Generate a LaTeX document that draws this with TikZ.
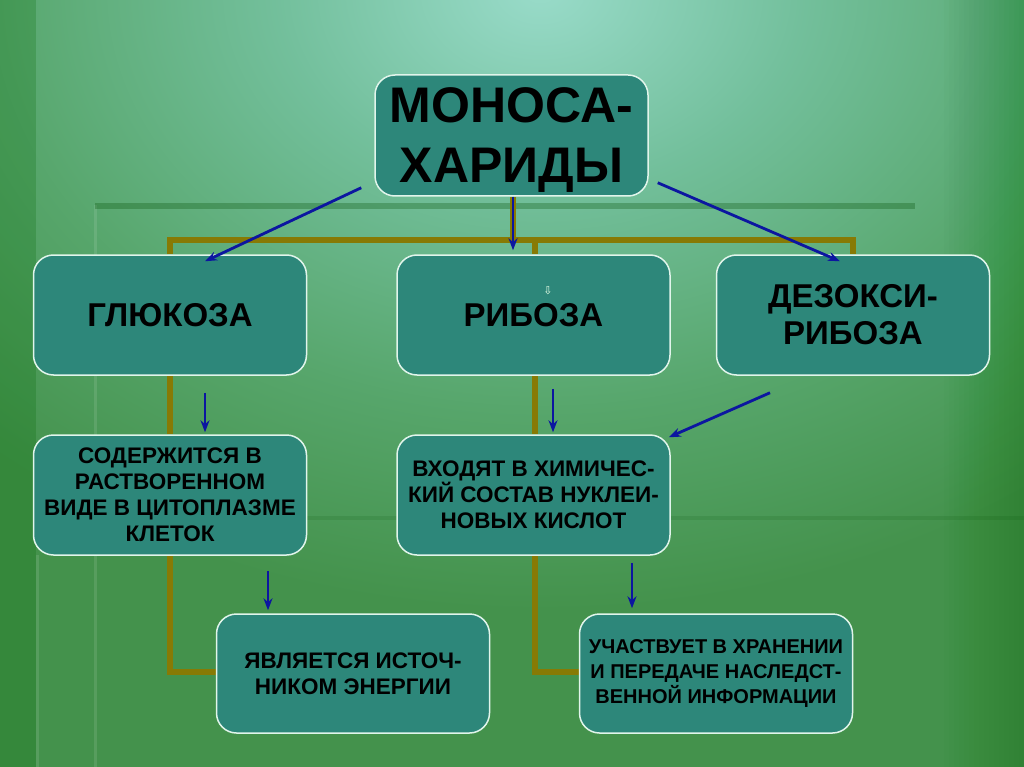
\documentclass[tikz,border=0pt]{standalone}
\usepackage{fontspec}
\setmainfont{Liberation Sans}
\newfontfamily\symfont{DejaVu Sans}
\usetikzlibrary{arrows.meta,calc}
\definecolor{boxfill}{RGB}{45,135,122}
\definecolor{boxline}{RGB}{225,245,235}
\definecolor{treeline}{RGB}{135,122,5}
\definecolor{arrowblue}{RGB}{12,22,160}
\definecolor{basegreen}{RGB}{68,146,76}
\pgfdeclarelayer{bg}
\pgfdeclarelayer{back}
\pgfsetlayers{bg,back,main}
\pgfdeclareradialshading{bgshade}{\pgfpoint{0bp}{0bp}}{rgb(0bp)=(0.60,0.86,0.79); rgb(8bp)=(0.45,0.75,0.61); rgb(17bp)=(0.34,0.65,0.42); rgb(25bp)=(0.267,0.573,0.298); rgb(50bp)=(0.267,0.573,0.298)}
\tikzset{
  box/.style={rectangle, rounded corners=20pt, draw=boxline, line width=1.5pt,
    fill=boxfill, align=center, text=black, inner sep=0pt,
    minimum width=273pt, minimum height=120pt},
  bigfont/.style={font={\fontsize{33}{37}\selectfont\bfseries}},
  smallfont/.style={font={\fontsize{22.5}{26}\selectfont\bfseries}},
  tree/.style={draw=treeline, line width=6pt, line join=miter},
  arr/.style={draw=arrowblue, line width=2.8pt, -{Stealth[length=12pt,width=9pt]}}
}
\begin{document}
\begin{tikzpicture}[x=1pt,y=-1pt]
\useasboundingbox (0,0) rectangle (1024,767);
% background
\begin{pgfonlayer}{bg}
  \fill[basegreen] (0,0) rectangle (1024,767);
  \begin{scope}
    \clip (0,0) rectangle (1024,767);
    \shade[shading=bgshade] (540,-10) ellipse (820 and 620);
  \end{scope}
  \fill[black!60!green, opacity=0.22] (0,0) rectangle (36,767);
  \foreach \i in {0,...,15} {
    \fill[black!60!green, opacity=0.016] ({944+5*\i},0) rectangle (1024,767);
  }
  \fill[white, opacity=0.10] (36,555) rectangle (39,767);
  \fill[white, opacity=0.10] (94,205) rectangle (97,767);
  \fill[black!70!green, opacity=0.28] (95,203) rectangle (915,209);
  \fill[black!70!green, opacity=0.12] (95,516) rectangle (1024,520);
\end{pgfonlayer}
% nodes
\node[box, minimum height=121pt, font={\fontsize{50}{60}\selectfont\bfseries}] (mono) at (511.5,135.5) {\rule{0pt}{44pt}МОНОСА-\\ХАРИДЫ};
\node[box, bigfont] (glu) at (170,315) {ГЛЮКОЗА};
\node[box, bigfont] (rib) at (533.5,315) {РИБОЗА};
\node[box, bigfont] (dez) at (853,315) {ДЕЗОКСИ-\\РИБОЗА};
\node[text=white!90!green, font={\symfont\fontsize{11}{11}\selectfont}] (ribmark) at (548,291) {⇩};
\node[box, smallfont] (sod) at (170,495) {СОДЕРЖИТСЯ В\\РАСТВОРЕННОМ\\ВИДЕ В ЦИТОПЛАЗМЕ\\КЛЕТОК};
\node[box, smallfont] (vkh) at (533.5,495) {ВХОДЯТ В ХИМИЧЕС-\\КИЙ СОСТАВ НУКЛЕИ-\\НОВЫХ КИСЛОТ};
\node[box, smallfont, minimum height=119pt] (yav) at (353,673.5) {ЯВЛЯЕТСЯ ИСТОЧ-\\НИКОМ ЭНЕРГИИ};
\node[box, minimum height=119pt, font={\fontsize{20}{25}\selectfont\bfseries}] (uch) at (716,673.5) {УЧАСТВУЕТ В ХРАНЕНИИ\\И ПЕРЕДАЧЕ НАСЛЕДСТ-\\ВЕННОЙ ИНФОРМАЦИИ};
% olive tree lines
\coordinate (tl) at (170,240);
\begin{pgfonlayer}{back}
  \draw[tree] ($(mono.south)+(1.5,0)$) -- ($(mono.south |- tl)+(1.5,0)$);
  \draw[tree] (glu.north) -- (glu.north |- tl) -| (dez.north);
  \draw[tree] ($(rib.north |- tl)+(1.5,0)$) -- ($(rib.north)+(1.5,0)$);
  \draw[tree] (glu.south) -- (sod.north);
  \draw[tree] (sod.south) |- ($(yav.west)+(0,-1.5)$);
  \draw[tree] ($(rib.south)+(1.5,0)$) -- ($(vkh.north)+(1.5,0)$);
  \draw[tree] ($(vkh.south)+(1.5,0)$) |- ($(uch.west)+(0,-1.5)$);
\end{pgfonlayer}
% blue arrows
\coordinate (a1s) at ($(mono.south west)+(-13,-9)$);
\coordinate (a1e) at ($(glu.north)+(35,7)$);
\coordinate (a2s) at ($(mono.south)+(1.5,0)$);
\coordinate (a2e) at ($(rib.north)+(-20.5,-4)$);
\coordinate (a3s) at ($(mono.south east)+(9,-14)$);
\coordinate (a3e) at ($(dez.north)+(-13,7)$);
\coordinate (a4s) at ($(glu.south)+(35,17)$);
\coordinate (a4e) at ($(sod.north)+(35,-2)$);
\coordinate (a5s) at ($(rib.south)+(19.5,13)$);
\coordinate (a5e) at ($(vkh.north)+(19.5,-2)$);
\coordinate (a6s) at ($(dez.south)+(-83,17)$);
\coordinate (a6e) at ($(vkh.north east)+(-2,3)$);
\coordinate (a7s) at ($(sod.south)+(98,15)$);
\coordinate (a7e) at ($(yav.north)+(-85,-3)$);
\coordinate (a8s) at ($(vkh.south)+(98.5,7)$);
\coordinate (a8e) at ($(uch.north)+(-84,-5)$);
\draw[arr] (a1s) -- (a1e);
\draw[arr] (a2s) -- (a2e);
\draw[arr] (a3s) -- (a3e);
\draw[arr] (a4s) -- (a4e);
\draw[arr] (a5s) -- (a5e);
\draw[arr] (a6s) -- (a6e);
\draw[arr] (a7s) -- (a7e);
\draw[arr] (a8s) -- (a8e);
\end{tikzpicture}
\end{document}
